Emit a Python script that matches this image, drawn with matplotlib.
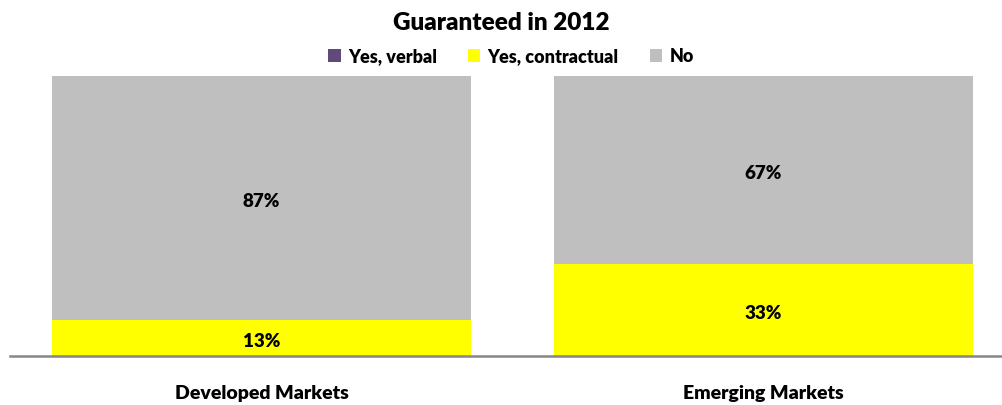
import numpy as np
import matplotlib.pyplot as plt
from matplotlib.patches import Patch

plt.rcParams['font.family'] = ['Lato', 'DejaVu Sans']
plt.rcParams['font.weight'] = 'bold'

markets = ['Developed Markets', 'Emerging Markets']
series = ['Yes, verbal', 'Yes, contractual', 'No']
yes_verbal = [0, 0]
yes_contractual = [13, 33]
no = [87, 67]
colors = ['#604A7B', '#FFFF00', '#BFBFBF']

fig = plt.figure(figsize=(10.02, 4.06), dpi=100)
ax = fig.add_axes([10 / 1002, 49 / 406, 992 / 1002, 280 / 406])

x = np.arange(len(markets))
width = 0.835
bottom = np.zeros(len(markets))
for name, vals, c in zip(series, [yes_verbal, yes_contractual, no], colors):
    vals = np.array(vals, dtype=float)
    ax.bar(x, vals, width, bottom=bottom, color=c, label=name)
    for xi, b, v in zip(x, bottom, vals):
        if v > 0:
            ax.text(xi, b + v / 2 - 0.8, f'{v:.0f}%', ha='center', va='center',
                    fontsize=13.5, fontweight='heavy', color='black')
    bottom += vals

ax.set_xlim(-0.501, 1.475)
ax.set_ylim(0, 100)
ax.set_yticks([])
ax.set_xticks(x)
ax.set_xticklabels(markets, fontsize=14, fontweight='heavy')
ax.tick_params(axis='x', length=0, pad=20)
for s in ['top', 'left', 'right']:
    ax.spines[s].set_visible(False)
ax.spines['bottom'].set_color('#868686')
ax.spines['bottom'].set_linewidth(1.8)

fig.text(0.5, 1 - 23 / 406, 'Guaranteed in 2012', ha='center', va='center',
         fontsize=17.5, fontweight='heavy')

handles = [Patch(facecolor=c, edgecolor='none') for c in colors]
fig.legend(handles, series, loc='center', bbox_to_anchor=(0.51, 1 - 57 / 406),
           ncol=3, frameon=False, prop={'size': 13, 'weight': 'heavy'},
           handlelength=0.7, handleheight=0.7,
           handletextpad=0.4, columnspacing=1.7)

fig.savefig('out.png', dpi=100)
